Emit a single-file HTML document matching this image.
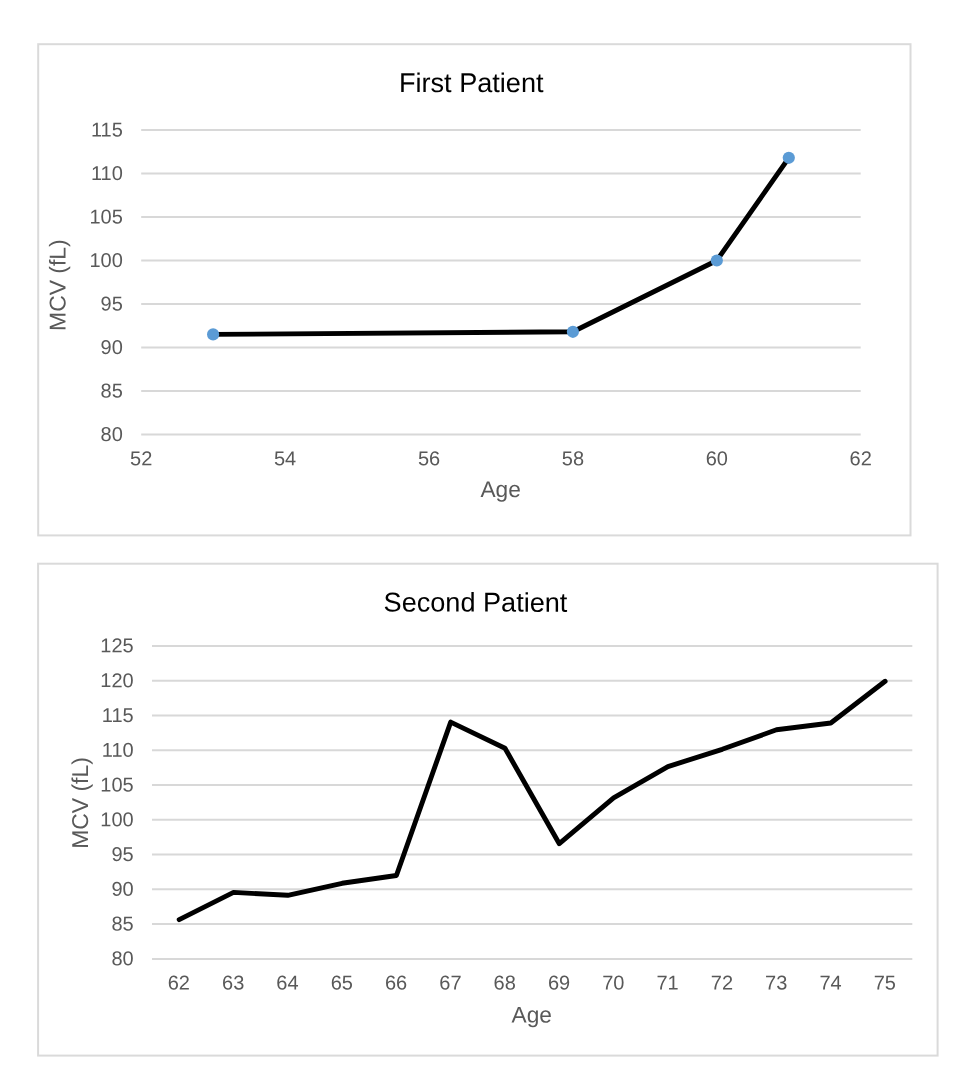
<!DOCTYPE html>
<html lang="en"><head><meta charset="utf-8"><title>MCV by Age</title>
<style>
html,body{margin:0;padding:0;background:#fff;}
body{width:970px;height:1080px;overflow:hidden;}
svg{display:block;}
text{font-family:"Liberation Sans",Arial,sans-serif;}
.tick{font-size:20.0px;fill:#595959;}
.axt{font-size:22.7px;fill:#595959;}
.axy{font-size:22.9px;fill:#595959;}
.ttl{font-size:27.1px;fill:#000;}
.grid{stroke:#d8d8d8;stroke-width:2;fill:none;}
.frame{stroke:#dadada;stroke-width:2;fill:#fff;}
.ln{stroke:#000;stroke-width:4.9;fill:none;stroke-linejoin:round;stroke-linecap:round;}
.mk{fill:#5b9bd5;}
</style></head><body>
<svg width="970" height="1080" viewBox="0 0 970 1080">
<rect x="0" y="0" width="970" height="1080" fill="#fff"/>

<rect class="frame" x="38.2" y="44.2" width="872.3" height="491.2"/>
<line class="grid" x1="141.2" y1="130.00" x2="860.7" y2="130.00"/>
<text class="tick" transform="translate(122.80,136.56) rotate(0.03)" text-anchor="end">115</text>
<line class="grid" x1="141.2" y1="173.50" x2="860.7" y2="173.50"/>
<text class="tick" transform="translate(122.80,180.06) rotate(0.03)" text-anchor="end">110</text>
<line class="grid" x1="141.2" y1="217.00" x2="860.7" y2="217.00"/>
<text class="tick" transform="translate(122.80,223.56) rotate(0.03)" text-anchor="end">105</text>
<line class="grid" x1="141.2" y1="260.50" x2="860.7" y2="260.50"/>
<text class="tick" transform="translate(122.80,267.06) rotate(0.03)" text-anchor="end">100</text>
<line class="grid" x1="141.2" y1="304.00" x2="860.7" y2="304.00"/>
<text class="tick" transform="translate(122.80,310.56) rotate(0.03)" text-anchor="end">95</text>
<line class="grid" x1="141.2" y1="347.50" x2="860.7" y2="347.50"/>
<text class="tick" transform="translate(122.80,354.06) rotate(0.03)" text-anchor="end">90</text>
<line class="grid" x1="141.2" y1="391.00" x2="860.7" y2="391.00"/>
<text class="tick" transform="translate(122.80,397.56) rotate(0.03)" text-anchor="end">85</text>
<line class="grid" x1="141.2" y1="434.50" x2="860.7" y2="434.50"/>
<text class="tick" transform="translate(122.80,441.06) rotate(0.03)" text-anchor="end">80</text>
<text class="tick" transform="translate(141.20,465.26) rotate(0.03)" text-anchor="middle">52</text>
<text class="tick" transform="translate(285.10,465.26) rotate(0.03)" text-anchor="middle">54</text>
<text class="tick" transform="translate(429.00,465.26) rotate(0.03)" text-anchor="middle">56</text>
<text class="tick" transform="translate(572.90,465.26) rotate(0.03)" text-anchor="middle">58</text>
<text class="tick" transform="translate(716.80,465.26) rotate(0.03)" text-anchor="middle">60</text>
<text class="tick" transform="translate(860.70,465.26) rotate(0.03)" text-anchor="middle">62</text>
<text class="axt" transform="translate(500.60,496.90) rotate(0.03)" text-anchor="middle">Age</text>
<text class="axy" transform="translate(65.40,285.10) rotate(-89.97)" text-anchor="middle">MCV (fL)</text>
<text class="ttl" transform="translate(471.20,92.00) rotate(0.03)" text-anchor="middle">First Patient</text>
<polyline class="ln" points="213.1,334.4 572.9,331.8 716.8,260.5 788.8,157.8"/>
<circle class="mk" cx="213.1" cy="334.4" r="6.1"/>
<circle class="mk" cx="572.9" cy="331.8" r="6.1"/>
<circle class="mk" cx="716.8" cy="260.5" r="6.1"/>
<circle class="mk" cx="788.8" cy="157.8" r="6.1"/>
<rect class="frame" x="38.1" y="563.7" width="899.5" height="491.9"/>
<line class="grid" x1="152.0" y1="645.90" x2="912.3" y2="645.90"/>
<text class="tick" transform="translate(133.70,652.36) rotate(0.03)" text-anchor="end">125</text>
<line class="grid" x1="152.0" y1="680.68" x2="912.3" y2="680.68"/>
<text class="tick" transform="translate(133.70,687.14) rotate(0.03)" text-anchor="end">120</text>
<line class="grid" x1="152.0" y1="715.46" x2="912.3" y2="715.46"/>
<text class="tick" transform="translate(133.70,721.92) rotate(0.03)" text-anchor="end">115</text>
<line class="grid" x1="152.0" y1="750.23" x2="912.3" y2="750.23"/>
<text class="tick" transform="translate(133.70,756.69) rotate(0.03)" text-anchor="end">110</text>
<line class="grid" x1="152.0" y1="785.01" x2="912.3" y2="785.01"/>
<text class="tick" transform="translate(133.70,791.47) rotate(0.03)" text-anchor="end">105</text>
<line class="grid" x1="152.0" y1="819.79" x2="912.3" y2="819.79"/>
<text class="tick" transform="translate(133.70,826.25) rotate(0.03)" text-anchor="end">100</text>
<line class="grid" x1="152.0" y1="854.57" x2="912.3" y2="854.57"/>
<text class="tick" transform="translate(133.70,861.03) rotate(0.03)" text-anchor="end">95</text>
<line class="grid" x1="152.0" y1="889.35" x2="912.3" y2="889.35"/>
<text class="tick" transform="translate(133.70,895.81) rotate(0.03)" text-anchor="end">90</text>
<line class="grid" x1="152.0" y1="924.12" x2="912.3" y2="924.12"/>
<text class="tick" transform="translate(133.70,930.58) rotate(0.03)" text-anchor="end">85</text>
<line class="grid" x1="152.0" y1="958.90" x2="912.3" y2="958.90"/>
<text class="tick" transform="translate(133.70,965.36) rotate(0.03)" text-anchor="end">80</text>
<text class="tick" transform="translate(178.85,989.56) rotate(0.03)" text-anchor="middle">62</text>
<text class="tick" transform="translate(233.16,989.56) rotate(0.03)" text-anchor="middle">63</text>
<text class="tick" transform="translate(287.47,989.56) rotate(0.03)" text-anchor="middle">64</text>
<text class="tick" transform="translate(341.77,989.56) rotate(0.03)" text-anchor="middle">65</text>
<text class="tick" transform="translate(396.08,989.56) rotate(0.03)" text-anchor="middle">66</text>
<text class="tick" transform="translate(450.39,989.56) rotate(0.03)" text-anchor="middle">67</text>
<text class="tick" transform="translate(504.70,989.56) rotate(0.03)" text-anchor="middle">68</text>
<text class="tick" transform="translate(559.00,989.56) rotate(0.03)" text-anchor="middle">69</text>
<text class="tick" transform="translate(613.31,989.56) rotate(0.03)" text-anchor="middle">70</text>
<text class="tick" transform="translate(667.62,989.56) rotate(0.03)" text-anchor="middle">71</text>
<text class="tick" transform="translate(721.93,989.56) rotate(0.03)" text-anchor="middle">72</text>
<text class="tick" transform="translate(776.23,989.56) rotate(0.03)" text-anchor="middle">73</text>
<text class="tick" transform="translate(830.54,989.56) rotate(0.03)" text-anchor="middle">74</text>
<text class="tick" transform="translate(884.85,989.56) rotate(0.03)" text-anchor="middle">75</text>
<text class="axt" transform="translate(531.70,1022.50) rotate(0.03)" text-anchor="middle">Age</text>
<text class="axy" transform="translate(87.90,803.00) rotate(-89.97)" text-anchor="middle">MCV (fL)</text>
<text class="ttl" transform="translate(475.50,611.60) rotate(0.03)" text-anchor="middle">Second Patient</text>
<polyline class="ln" points="179.2,919.6 233.5,892.4 287.8,895.3 342.1,883.3 396.4,875.5 450.7,722.1 505.0,748.3 559.3,843.7 613.6,797.9 667.9,766.6 722.2,749.3 776.5,729.8 830.8,723.0 885.1,681.3"/>
</svg></body></html>
